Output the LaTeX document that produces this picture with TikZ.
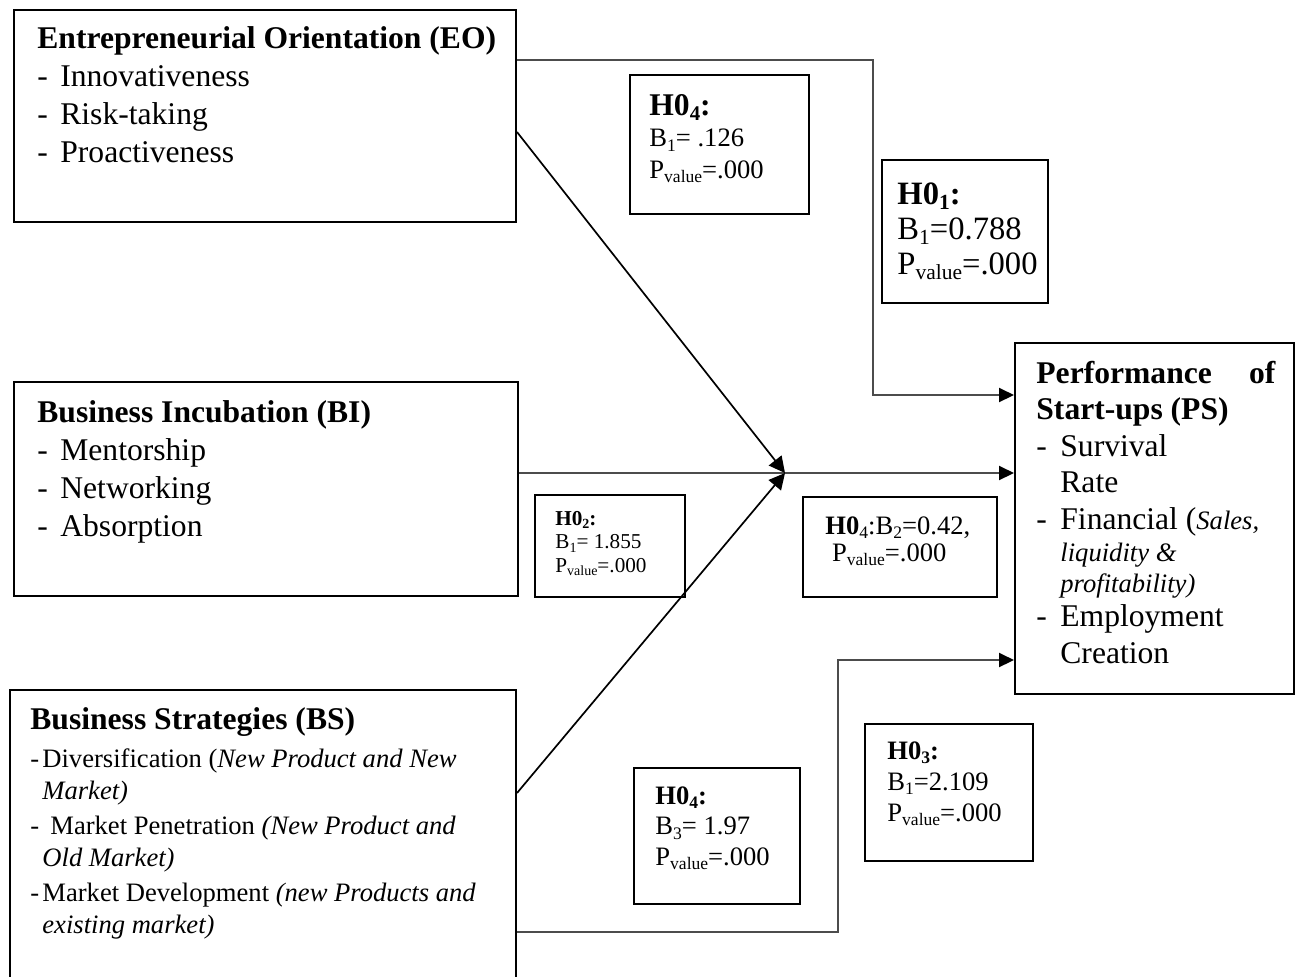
\documentclass[tikz,border=0pt]{standalone}
\usepackage{fontspec}
\setmainfont{Liberation Serif}
\usepackage{graphicx}
\usetikzlibrary{arrows.meta,fit}

% word-processor style subscript: smaller and lowered
\newcommand{\lowtext}[1]{\raisebox{-0.17em}{\scalebox{0.66}{#1}}}
% a block of left aligned lines whose baseline is the first line
\newcommand{\boxlines}[1]{\begin{tabular}[t]{@{}l@{}}#1\end{tabular}}
\newcommand{\mainsize}{\fontsize{15.8}{19}\selectfont}
\newcommand{\smallsize}{\fontsize{13.3}{15.75}\selectfont}
\newcommand{\dashitem}[1]{\makebox[11.5pt][l]{-}#1}

\begin{document}
\begin{tikzpicture}[x=0.5pt,y=-0.5pt,
  box/.style={draw=black, line width=1pt, inner sep=0pt},
  txt/.style={anchor=base west, inner sep=0pt},
  link/.style={draw=black!70, line width=1pt},
  diag/.style={draw=black, line width=0.85pt},
  tip/.style={-{Triangle[length=7.5pt,width=7pt,color=black]}},
  bigtip/.style={-{Triangle[length=8pt,width=8pt,color=black]}}]
\useasboundingbox (0,0) rectangle (1300,976);
\clip (0,0) rectangle (1300,976);

% ---------- construct boxes ----------
\node[box, fit={(14,10) (516,222)}] (eo) {};
\node[box, fit={(14,382) (518,596)}] (bi) {};
\node[box, fit={(10,690) (516,990)}] (bs) {};
\node[box, fit={(1015,343) (1294,694)}] (ps) {};

% ---------- hypothesis boxes ----------
\node[box, fit={(630,75) (809,214)}] (h4a) {};
\node[box, fit={(882,160) (1048,303)}] (h1) {};
\node[box, fit={(535,495) (685,597)}] (h2) {};
\node[box, fit={(803,497) (997,597)}] (h4b) {};
\node[box, fit={(634,768) (800,904)}] (h4c) {};
\node[box, fit={(865,724) (1033,861)}] (h3) {};

% ---------- construct texts ----------
\node[txt, font=\mainsize] (eot) at (37,48) {\boxlines{%
  \textbf{Entrepreneurial Orientation (EO)}\\
  \dashitem{Innovativeness}\\
  \dashitem{Risk-taking}\\
  \dashitem{Proactiveness}}};

\node[txt, font=\mainsize] (bit) at (37,422) {\boxlines{%
  \textbf{Business Incubation (BI)}\\
  \dashitem{Mentorship}\\
  \dashitem{Networking}\\
  \dashitem{Absorption}}};

\node[txt, font=\fontsize{13.3}{16}\selectfont] (bst) at (30,729) {\boxlines{%
  {\mainsize\textbf{Business Strategies (BS)}}\\[3pt]
  \makebox[6pt][l]{-}Diversification (\textit{New Product and New}\\
  \hspace*{6pt}\textit{Market)}\\[1.5pt]
  \makebox[10pt][l]{-}Market Penetration \textit{(New Product and}\\
  \hspace*{6pt}\textit{Old Market)}\\[1.5pt]
  \makebox[6pt][l]{-}Market Development \textit{(new Products and}\\
  \hspace*{6pt}\textit{existing market)}}};

\node[txt, font=\fontsize{15.8}{18.25}\selectfont] (pst) at (1036,383) {\boxlines{%
  \textbf{\hbox to 119.5pt{Performance\hfill of}}\\
  \textbf{Start-ups (PS)}\\
  \makebox[12pt][l]{-}Survival\\
  \hspace*{12pt}Rate\\
  \makebox[12pt][l]{-}Financial ({\smallsize\textit{Sales,}}\\[-2pt]
  \hspace*{12pt}{\smallsize\textit{liquidity \&}}\\[-3pt]
  \hspace*{12pt}{\smallsize\textit{profitability)}}\\[-1pt]
  \makebox[12pt][l]{-}Employment\\
  \hspace*{12pt}Creation}};

% ---------- hypothesis texts ----------
\node[txt, font=\smallsize] (h4at) at (649,115) {\boxlines{%
  {\mainsize\textbf{H0\lowtext{4}:}}\\
  B\lowtext{1}= .126\\
  P\lowtext{value}=.000}};

\node[txt, font=\fontsize{16.3}{17.5}\selectfont] (h1t) at (897,204) {\boxlines{%
  \textbf{H0\lowtext{1}:}\\
  B\lowtext{1}=0.788\\
  P\lowtext{value}=.000}};

\node[txt, font=\fontsize{10.6}{11.75}\selectfont] (h2t) at (555,525) {\boxlines{%
  \textbf{H0\lowtext{2}:}\\
  B\lowtext{1}= 1.855\\
  P\lowtext{value}=.000}};

\node[txt, font=\fontsize{13.3}{13.5}\selectfont] (h4bt) at (825,534) {\boxlines{%
  \textbf{H0}\lowtext{4}:B\lowtext{2}=0.42,\\
  \ P\lowtext{value}=.000}};

\node[txt, font=\fontsize{13.3}{15.25}\selectfont] (h4ct) at (655,804) {\boxlines{%
  \textbf{H0\lowtext{4}:}\\
  B\lowtext{3}= 1.97\\
  P\lowtext{value}=.000}};

\node[txt, font=\fontsize{13.3}{15.5}\selectfont] (h3t) at (887,759) {\boxlines{%
  \textbf{H0\lowtext{3}:}\\
  B\lowtext{1}=2.109\\
  P\lowtext{value}=.000}};

% ---------- connectors ----------
\coordinate (k0) at (873,60);
\coordinate (k1) at (873,395);
\coordinate (jn) at (785,473);
\coordinate (d1) at (516,132);
\coordinate (d2) at (516,793);
\coordinate (k2) at (838,932);
\coordinate (k3) at (838,660);

\draw[link, tip] (eo.east |- k0) -- (k0) -- (k1) -- (ps.west |- k1);
\draw[link, tip] (bi.east |- jn) -- (ps.west |- jn);
\draw[diag, bigtip] (eo.east |- d1) -- (jn);
\draw[diag, bigtip] (bs.east |- d2) -- (jn);
\draw[link, tip] (bs.east |- k2) -- (k2) -- (k3) -- (ps.west |- k3);
\end{tikzpicture}
\end{document}
